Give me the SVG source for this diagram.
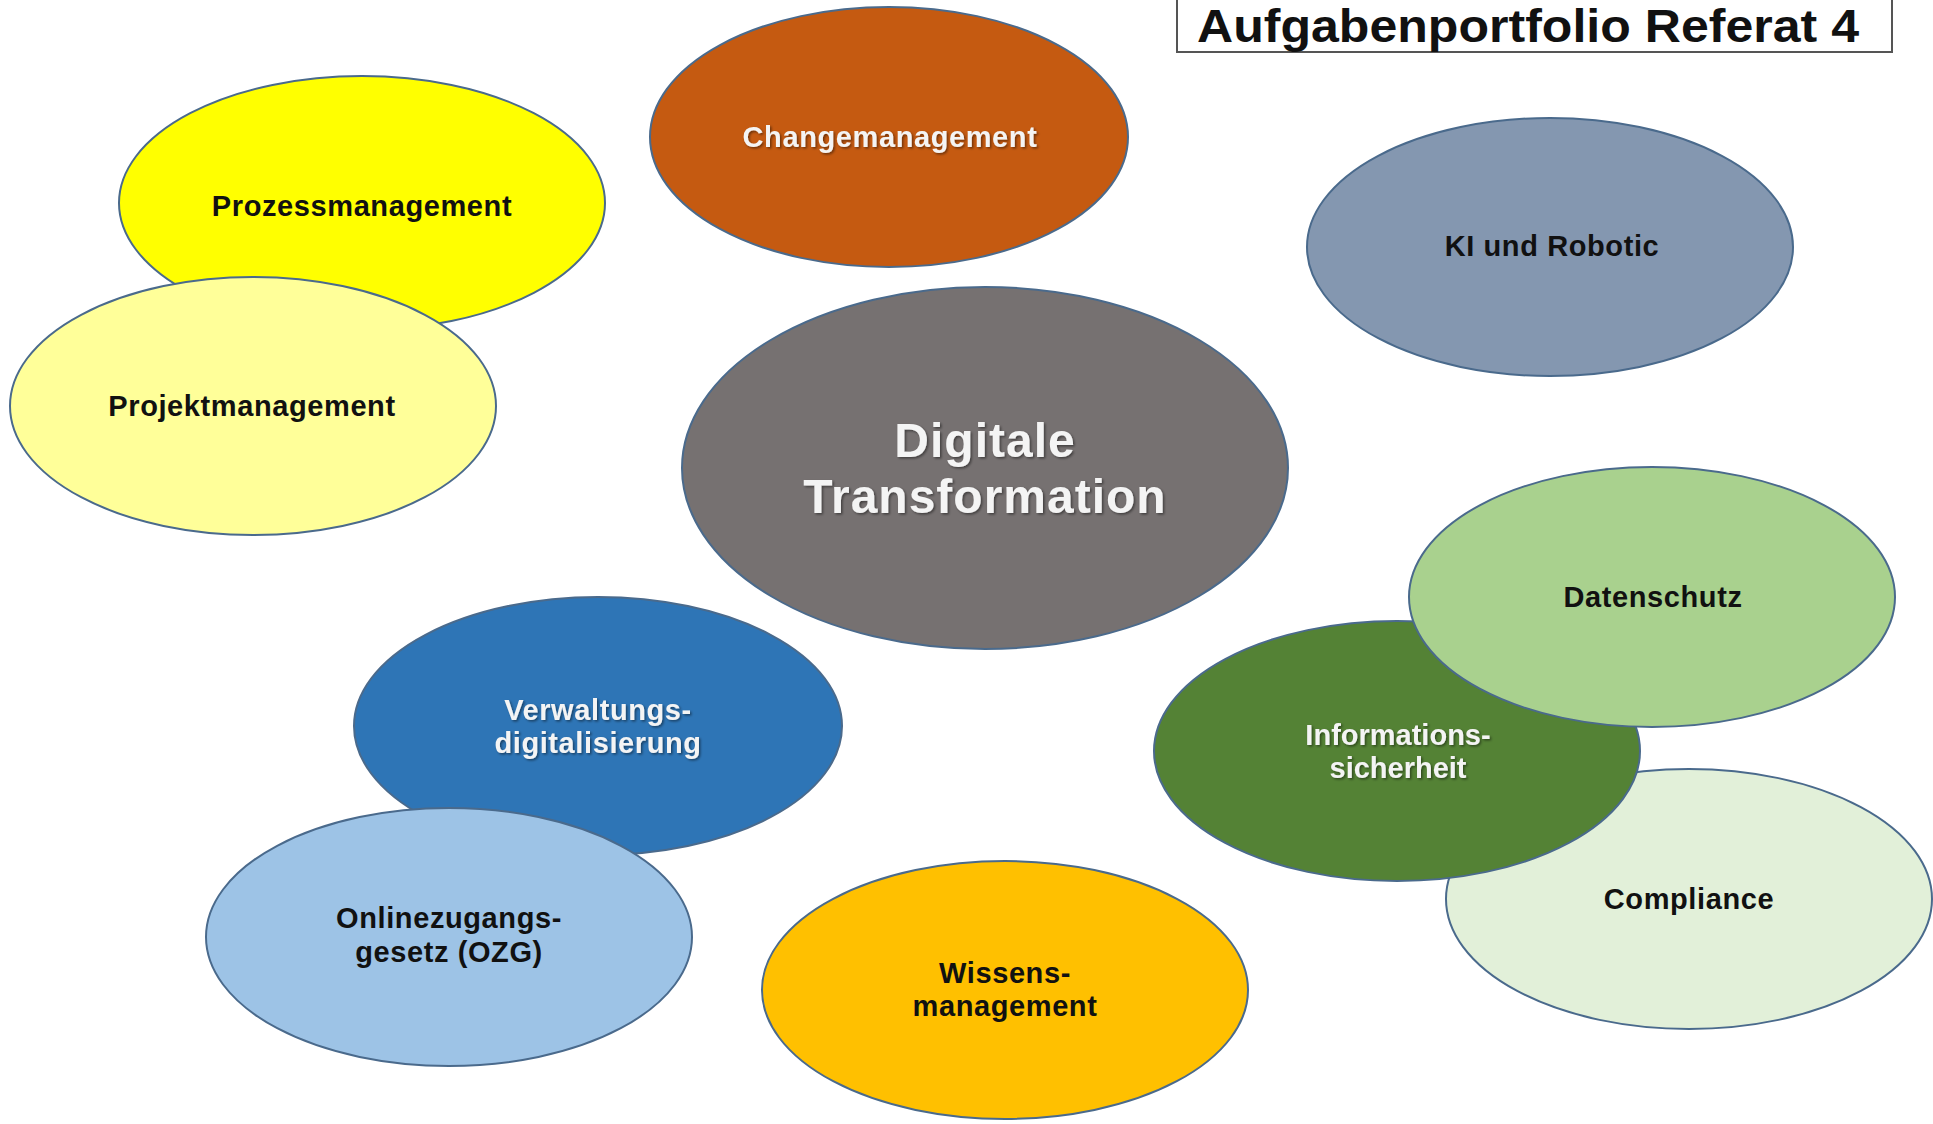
<svg xmlns="http://www.w3.org/2000/svg" width="1933" height="1124" viewBox="0 0 1933 1124">
<defs>
<filter id="sh" x="-10%" y="-30%" width="120%" height="160%">
<feDropShadow dx="1.5" dy="1.5" stdDeviation="1" flood-color="#000" flood-opacity="0.45"/>
</filter>
<style>
.n{stroke:#4a6a8c;stroke-width:2}
.t{font-family:"Liberation Sans",Arial,sans-serif;font-weight:bold;font-size:29px;letter-spacing:0.6px;text-anchor:middle}
.d{fill:#111}
.w{fill:#f4f4f4;filter:url(#sh)}
</style>
</defs>
<rect width="1933" height="1124" fill="#fff"/>
<g id="title">
<rect x="1177" y="-3" width="715" height="55" fill="#fff" stroke="#555" stroke-width="2"/>
<text x="1528" y="42" font-family="Liberation Sans,Arial,sans-serif" font-weight="bold" font-size="46" text-anchor="middle" fill="#111" textLength="662" lengthAdjust="spacingAndGlyphs">Aufgabenportfolio Referat 4</text>
</g>
<g id="connectors"></g>
<g id="changemanagement">
<ellipse class="n" cx="889" cy="137" rx="239" ry="130" fill="#C55A11"/>
<text class="t w" x="890" y="147">Changemanagement</text>
</g>
<g id="prozessmanagement">
<ellipse class="n" cx="362" cy="203" rx="243" ry="127" fill="#FFFF00"/>
<text class="t d" x="362" y="216">Prozessmanagement</text>
</g>
<g id="projektmanagement">
<ellipse class="n" cx="253" cy="406" rx="243" ry="129" fill="#FFFF99"/>
<text class="t d" x="252" y="416">Projektmanagement</text>
</g>
<g id="ki-robotic">
<ellipse class="n" cx="1550" cy="247" rx="243" ry="129" fill="#8497B0"/>
<text class="t d" x="1552" y="256">KI und Robotic</text>
</g>
<g id="digitale-transformation">
<ellipse class="n" cx="985" cy="468" rx="303" ry="181" fill="#767171"/>
<text class="t w" x="985" y="457" style="font-size:48px;letter-spacing:1px">Digitale</text>
<text class="t w" x="985" y="513" style="font-size:48px;letter-spacing:1px">Transformation</text>
</g>
<g id="compliance">
<ellipse class="n" cx="1689" cy="899" rx="243" ry="130" fill="#E2F0D9"/>
<text class="t d" x="1689" y="909">Compliance</text>
</g>
<g id="informationssicherheit">
<ellipse class="n" cx="1397" cy="751" rx="243" ry="130" fill="#548235"/>
<text class="t w" x="1398" y="745" style="letter-spacing:0px">Informations-</text>
<text class="t w" x="1398" y="778" style="letter-spacing:0px">sicherheit</text>
</g>
<g id="datenschutz">
<ellipse class="n" cx="1652" cy="597" rx="243" ry="130" fill="#A9D18E"/>
<text class="t d" x="1653" y="607">Datenschutz</text>
</g>
<g id="verwaltungsdigitalisierung">
<ellipse class="n" cx="598" cy="726" rx="244" ry="129" fill="#2E75B6"/>
<text class="t w" x="598" y="720">Verwaltungs-</text>
<text class="t w" x="598" y="753">digitalisierung</text>
</g>
<g id="onlinezugangsgesetz">
<ellipse class="n" cx="449" cy="937" rx="243" ry="129" fill="#9DC3E6"/>
<text class="t d" x="449" y="928">Onlinezugangs-</text>
<text class="t d" x="449" y="962">gesetz (OZG)</text>
</g>
<g id="wissensmanagement">
<ellipse class="n" cx="1005" cy="990" rx="243" ry="129" fill="#FFC000"/>
<text class="t d" x="1005" y="983">Wissens-</text>
<text class="t d" x="1005" y="1016">management</text>
</g>
</svg>
